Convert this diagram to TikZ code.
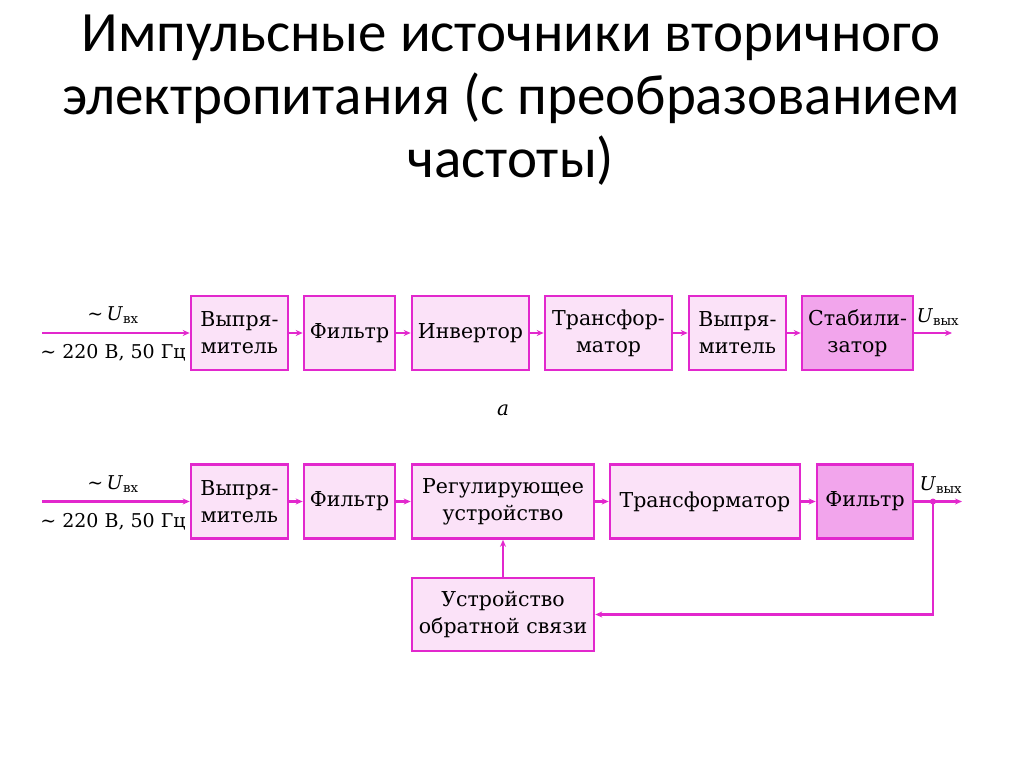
\documentclass[tikz,border=0pt]{standalone}
\usepackage{fontspec}
\setmainfont{DejaVu Serif}
\newfontfamily\titlefont{Carlito}
\usetikzlibrary{arrows.meta}

\definecolor{boxline}{RGB}{226,40,205}
\definecolor{boxfill}{RGB}{251,226,248}
\definecolor{darkfill}{RGB}{242,165,236}

\newcommand{\lineWidth}{2.6}
\newcommand{\rowAY}{333}
\newcommand{\rowBY}{501.5}
\newcommand{\feedY}{614.5}
\newcommand{\inputX}{42}
\newcommand{\labelX}{113}
\newcommand{\tapX}{933}

\tikzset{
  block/.style={draw=boxline, fill=boxfill, line width=\lineWidth pt, align=center,
    minimum height=74pt, inner sep=0pt, font=\fontsize{20.5}{27}\selectfont},
  darkblock/.style={block, fill=darkfill},
  link/.style={draw=boxline, line width=\lineWidth pt, -{Stealth[length=7pt,width=6pt]}},
  sig/.style={font=\fontsize{19}{22}\selectfont}
}

\begin{document}
\begin{tikzpicture}[x=1pt,y=-1pt]
        \useasboundingbox (0,0) rectangle (1024,767);

        % Title
        \node[align=center, font=\titlefont\fontsize{57}{63}\selectfont] (title) at (511,100)
          {Импульсные источники вторичного\\электропитания (с преобразованием\\частоты)};

        % Row a
        \node[block, minimum width=97pt] (rectA) at (239.5,\rowAY) {Выпря-\\митель};
        \node[block, minimum width=91pt] (filtA) at (349.5,\rowAY) {Фильтр};
        \node[block, minimum width=117pt] (inv) at (470.5,\rowAY) {Инвертор};
        \node[block, minimum width=127pt] (transA) at (608.5,\rowAY) {Трансфор-\\матор};
        \node[block, minimum width=97pt] (rectA2) at (737.5,\rowAY) {Выпря-\\митель};
        \node[darkblock, minimum width=111pt] (stab) at (857.5,\rowAY) {Стабили-\\затор};
        \coordinate (inA) at (\inputX,\rowAY);
        \coordinate (outA) at (952,\rowAY);
        \node[sig] (uinA) at (\labelX,315) {\textasciitilde\,\textit{U}\textsubscript{вх}};
        \node[sig] (netA) at (\labelX,353) {\textasciitilde\ 220 В, 50 Гц};
        \node[sig, anchor=west] (uoutA) at (913,317) {\textit{U}\textsubscript{вых}};
        \node[font=\itshape\fontsize{20}{22}\selectfont] (capA) at (503,410) {а};

        \draw[link] (inA) -- (rectA);
        \draw[link] (rectA) -- (filtA);
        \draw[link] (filtA) -- (inv);
        \draw[link] (inv) -- (transA);
        \draw[link] (transA) -- (rectA2);
        \draw[link] (rectA2) -- (stab);
        \draw[link] (stab) -- (outA);

        % Row b
        \node[block, minimum width=97pt] (rectB) at (239.5,\rowBY) {Выпря-\\митель};
        \node[block, minimum width=91pt] (filtB) at (349.5,\rowBY) {Фильтр};
        \node[block, minimum width=182pt] (reg) at (503,\rowBY) {Регулирующее\\устройство};
        \node[block, minimum width=190pt] (transB) at (705,\rowBY) {Трансформатор};
        \node[darkblock, minimum width=96pt] (filtB2) at (865,\rowBY) {Фильтр};
        \node[block, minimum width=182pt, minimum height=73pt] (fback) at (503,\feedY) {Устройство\\обратной связи};
        \coordinate (inB) at (\inputX,\rowBY);
        \coordinate (outB) at (962,\rowBY);
        \coordinate (tap) at (\tapX,\rowBY);
        \coordinate (tapDown) at (\tapX,\feedY);
        \node[sig] (uinB) at (\labelX,484) {\textasciitilde\,\textit{U}\textsubscript{вх}};
        \node[sig] (netB) at (\labelX,522) {\textasciitilde\ 220 В, 50 Гц};
        \node[sig, anchor=west] (uoutB) at (916,485) {\textit{U}\textsubscript{вых}};

        \draw[link] (inB) -- (rectB);
        \draw[link] (rectB) -- (filtB);
        \draw[link] (filtB) -- (reg);
        \draw[link] (reg) -- (transB);
        \draw[link] (transB) -- (filtB2);
        \draw[link] (filtB2) -- (outB);

        % Feedback loop
        \fill[boxline] (tap) circle (3pt);
        \draw[link] (tap) -- (tapDown) -- (fback.east);
        \draw[link] (fback) -- (reg);
\end{tikzpicture}
\end{document}
